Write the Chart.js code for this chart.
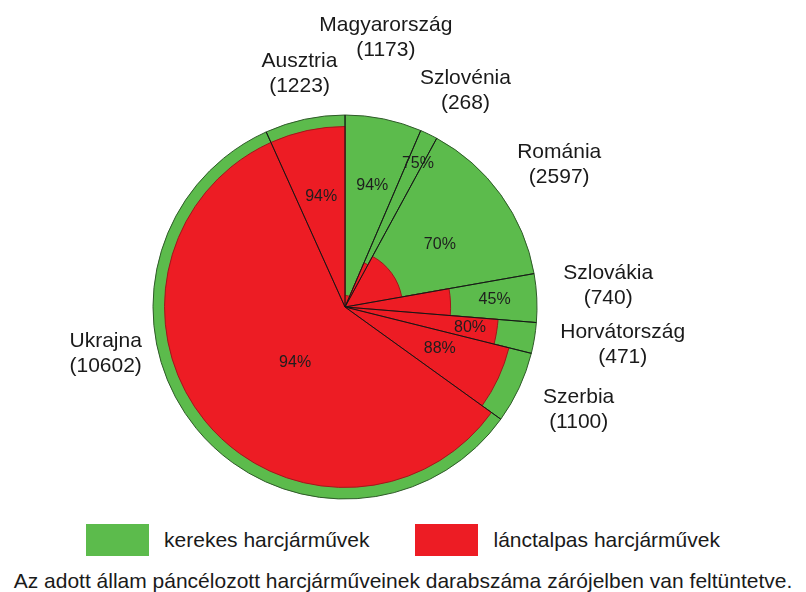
<!DOCTYPE html>
<html>
<head>
<meta charset="utf-8">
<script src="https://cdn.jsdelivr.net/npm/chart.js@4/dist/chart.umd.min.js"></script>
<style>
  body { margin: 0; background: #fff; font-family: "Liberation Sans", Arial, sans-serif; color: #1a1a1a; }
  #wrap { position: relative; width: 806px; height: 592px; }
  #box { position: absolute; left: 0; top: 0; width: 806px; height: 512px; }
  #legend { position: absolute; left: 0; top: 524px; width: 806px; height: 32px; display: flex; justify-content: center; align-items: center; font-size: 21px; line-height: 24px; }
  #legend .sw { width: 63px; height: 32px; margin-right: 15px; }
  #legend .item { display: flex; align-items: center; }
  #legend .item + .item { margin-left: 46px; }
  #caption { position: absolute; left: 0; top: 569px; width: 806px; text-align: center; font-size: 21px; line-height: 24px; }
</style>
</head>
<body>
<div id="wrap">
  <div id="box"><canvas id="myChart"></canvas></div>
  <div id="legend"></div>
  <div id="caption">Az adott állam páncélozott harcjárműveinek darabszáma zárójelben van feltüntetve.</div>
</div>
<script>
// countries clockwise from 12 o'clock
const countries = ['Magyarország', 'Szlovénia', 'Románia', 'Szlovákia', 'Horvátország', 'Szerbia', 'Ukrajna', 'Ausztria'];
const vehicleCounts = [1173, 268, 2597, 740, 471, 1100, 10602, 1223];
// share of wheeled / tracked vehicles, percent
const wheeledShare = [94, 75, 70, 45, 20, 12, 6, 6];
const trackedShare = [6, 25, 30, 55, 80, 88, 94, 94];
const seriesNames = ['kerekes harcjárművek', 'lánctalpas harcjárművek'];

const GREEN = '#5cbb4c';
const RED = '#ed1c24';

// label placement: [degrees off the slice middle, radius as fraction of pie radius]
const pctLabelAt = [[1, 0.65], [1, 0.84], [2.6, 0.59], [0, 0.78], [0, 0.66], [-1, 0.54], [-9, 0.39], [0, 0.59]];
const nameLabelAt = [[-3, 1.42], [3.2, 1.29], [2.1, 1.34], [-1.9, 1.375], [-1.5, 1.46], [-1.1, 1.33], [28.2, 1.27], [1.1, 1.24]];

const total = vehicleCounts.reduce((a, b) => a + b, 0);
const sliceAngles = vehicleCounts.map(v => 360 * v / total);
const fullShare = wheeledShare.map((w, i) => w + trackedShare[i]);

// html legend
const legendEl = document.getElementById('legend');
[GREEN, RED].forEach((c, i) => {
  const item = document.createElement('div');
  item.className = 'item';
  item.innerHTML = `<span class="sw" style="background:${c}"></span><span>${seriesNames[i]}</span>`;
  legendEl.appendChild(item);
});

const toRad = d => d * Math.PI / 180;

const sliceLabels = {
  id: 'sliceLabels',
  afterDatasetsDraw(chart) {
    const ctx = chart.ctx;
    const arcs = chart.getDatasetMeta(1).data;
    ctx.save();

    // dividers between countries
    ctx.strokeStyle = '#151515';
    ctx.lineWidth = 1;
    arcs.forEach(a => {
      ctx.beginPath();
      ctx.moveTo(a.x, a.y);
      ctx.lineTo(a.x + a.outerRadius * Math.cos(a.startAngle), a.y + a.outerRadius * Math.sin(a.startAngle));
      ctx.stroke();
    });

    ctx.textAlign = 'center';
    ctx.textBaseline = 'middle';

    arcs.forEach((a, i) => {
      const mid = (a.startAngle + a.endAngle) / 2;
      const R = a.outerRadius;

      // share of whichever part the label sits in (inner = tracked, outer = wheeled)
      const [dAng, rFrac] = pctLabelAt[i];
      const pct = rFrac * 100 > trackedShare[i] ? wheeledShare[i] : trackedShare[i];
      const pa = mid + toRad(dAng);
      const pr = R * rFrac;
      ctx.font = '16px "Liberation Sans", Arial, sans-serif';
      ctx.fillStyle = '#1e1e1e';
      ctx.fillText(pct + '%', a.x + pr * Math.cos(pa), a.y + pr * Math.sin(pa));

      // country name and count outside
      const na = mid + toRad(nameLabelAt[i][0]);
      const nr = R * nameLabelAt[i][1];
      const nx = a.x + nr * Math.cos(na);
      const ny = a.y + nr * Math.sin(na);
      ctx.font = '21px "Liberation Sans", Arial, sans-serif';
      ctx.fillStyle = '#1a1a1a';
      ctx.fillText(countries[i], nx, ny - 12.5);
      ctx.fillText('(' + vehicleCounts[i] + ')', nx, ny + 12.5);
    });

    ctx.restore();
  }
};

const ctx = document.getElementById('myChart');
new Chart(ctx, {
  type: 'polarArea',
  data: {
    labels: countries,
    datasets: [
      {
        label: seriesNames[1],
        data: trackedShare,
        angle: sliceAngles,
        backgroundColor: RED,
        borderColor: '#a3161b',
        borderWidth: 1,
        order: 0
      },
      {
        label: seriesNames[0],
        data: fullShare,
        angle: sliceAngles,
        backgroundColor: GREEN,
        borderColor: '#2f5a29',
        borderWidth: 1,
        order: 1
      }
    ]
  },
  options: {
    responsive: true,
    maintainAspectRatio: false,
    animation: false,
    layout: {
      padding: { left: 153, right: 269, top: 115, bottom: 13 }
    },
    scales: {
      r: {
        min: 0,
        max: 100,
        ticks: { display: false },
        grid: { display: false },
        angleLines: { display: false },
        pointLabels: { display: false }
      }
    },
    plugins: {
      legend: { display: false },
      tooltip: { enabled: false }
    }
  },
  plugins: [sliceLabels]
});
</script>
</body>
</html>
